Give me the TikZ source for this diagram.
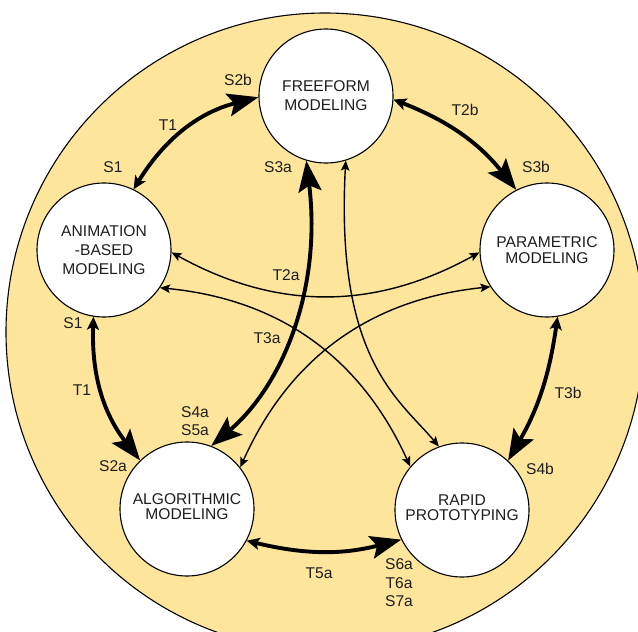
\documentclass[tikz,border=0pt]{standalone}
\usepackage{fontspec}
\setmainfont{Liberation Sans}
\usetikzlibrary{arrows.meta}
\definecolor{bgY}{RGB}{253,229,156}
\definecolor{txt}{RGB}{30,30,30}
\begin{document}
\begin{tikzpicture}[x=1pt,y=1pt,
  mod/.style={circle, draw=black, line width=1.1pt, fill=white, minimum size=134pt, inner sep=0pt, align=center, text=txt, font=\fontsize{15.6}{19}\selectfont},
  modt/.style={mod, font=\fontsize{15.6}{15.4}\selectfont},
  lab/.style={font=\fontsize{15.6}{18.5}\selectfont, inner sep=0pt, align=center, text=txt},
  thk/.style={line width=3.9pt, {Stealth[length=13pt,width=12pt,inset=3pt]}-{Stealth[length=31pt,width=23pt,inset=6pt]}},
  thkb/.style={line width=3.9pt, {Stealth[length=31pt,width=23pt,inset=6pt]}-{Stealth[length=31pt,width=23pt,inset=6pt]}},
  thn/.style={line width=1.4pt, {Stealth[length=10pt,width=8.5pt,inset=2pt]}-{Stealth[length=10pt,width=8.5pt,inset=2pt]}},
]
\useasboundingbox (0,0) rectangle (638,-632);
\begin{scope}
\clip (0,0) rectangle (638,-632);
\fill[bgY] (325,-332) circle (319);
\draw[line width=1.1pt] (325,-332) circle (319);
\end{scope}

\node[mod] (ff) at (326,-96) {FREEFORM\\MODELING};
\node[mod] (an) at (104,-250) {ANIMATION\\-BASED\\MODELING};
\node[modt] (pa) at (547,-250) {PARAMETRIC\\MODELING};
\node[modt] (al) at (187,-509) {\raisebox{-4pt}{\begin{tabular}{@{}c@{}}ALGORITHMIC\\MODELING\end{tabular}}};
\node[modt] (rp) at (462,-510) {\raisebox{-3pt}{\begin{tabular}{@{}c@{}}RAPID\\PROTOTYPING\end{tabular}}};

% thin connectors
\draw[thn] (an.-2) to[bend right=29] (pa.182);
\draw[thn] (an.-34) to[bend left=30] (rp.140);
\draw[thn] (pa.213) to[bend right=30] (al.38);
\draw[thn] (ff.-73) .. controls (335,-360) and (400,-400) .. (rp.110);

% thick connectors
\draw[thk] (an.64) to[bend left=22] (ff.181);
\draw[thk] (ff.-3) to[bend left=15] (pa.117);
\draw[thk] (pa.-81) to[bend left=11] (rp.47);
\draw[thk] (an.-99) to[bend right=20] (al.134);
\draw[thk] (al.-28) to[bend right=14] (rp.206);
\draw[thkb] (ff.-107) .. controls (322,-290) and (282,-386) .. (al.69);

% labels
\node[lab] (s2b) at (238,-80) {S2b};
\node[lab] (t1a) at (168,-125) {T1};
\node[lab] (s1a) at (113,-167) {S1};
\node[lab] (s3a) at (278,-167) {S3a};
\node[lab] (t2b) at (465,-110) {T2b};
\node[lab] (s3b) at (536,-167) {S3b};
\node[lab] (t2a) at (286,-275) {T2a};
\node[lab] (s1b) at (73,-323) {S1};
\node[lab] (t3a) at (267,-338) {T3a};
\node[lab] (t1b) at (82,-390) {T1};
\node[lab] (t3b) at (568,-393) {T3b};
\node[lab] (s4a) at (195,-421) {S4a\\S5a};
\node[lab] (s2a) at (113,-466) {S2a};
\node[lab] (s4b) at (540,-469) {S4b};
\node[lab] (t5a) at (319,-573) {T5a};
\node[lab] (s6a) at (399,-583) {S6a\\T6a\\S7a};
\end{tikzpicture}
\end{document}
